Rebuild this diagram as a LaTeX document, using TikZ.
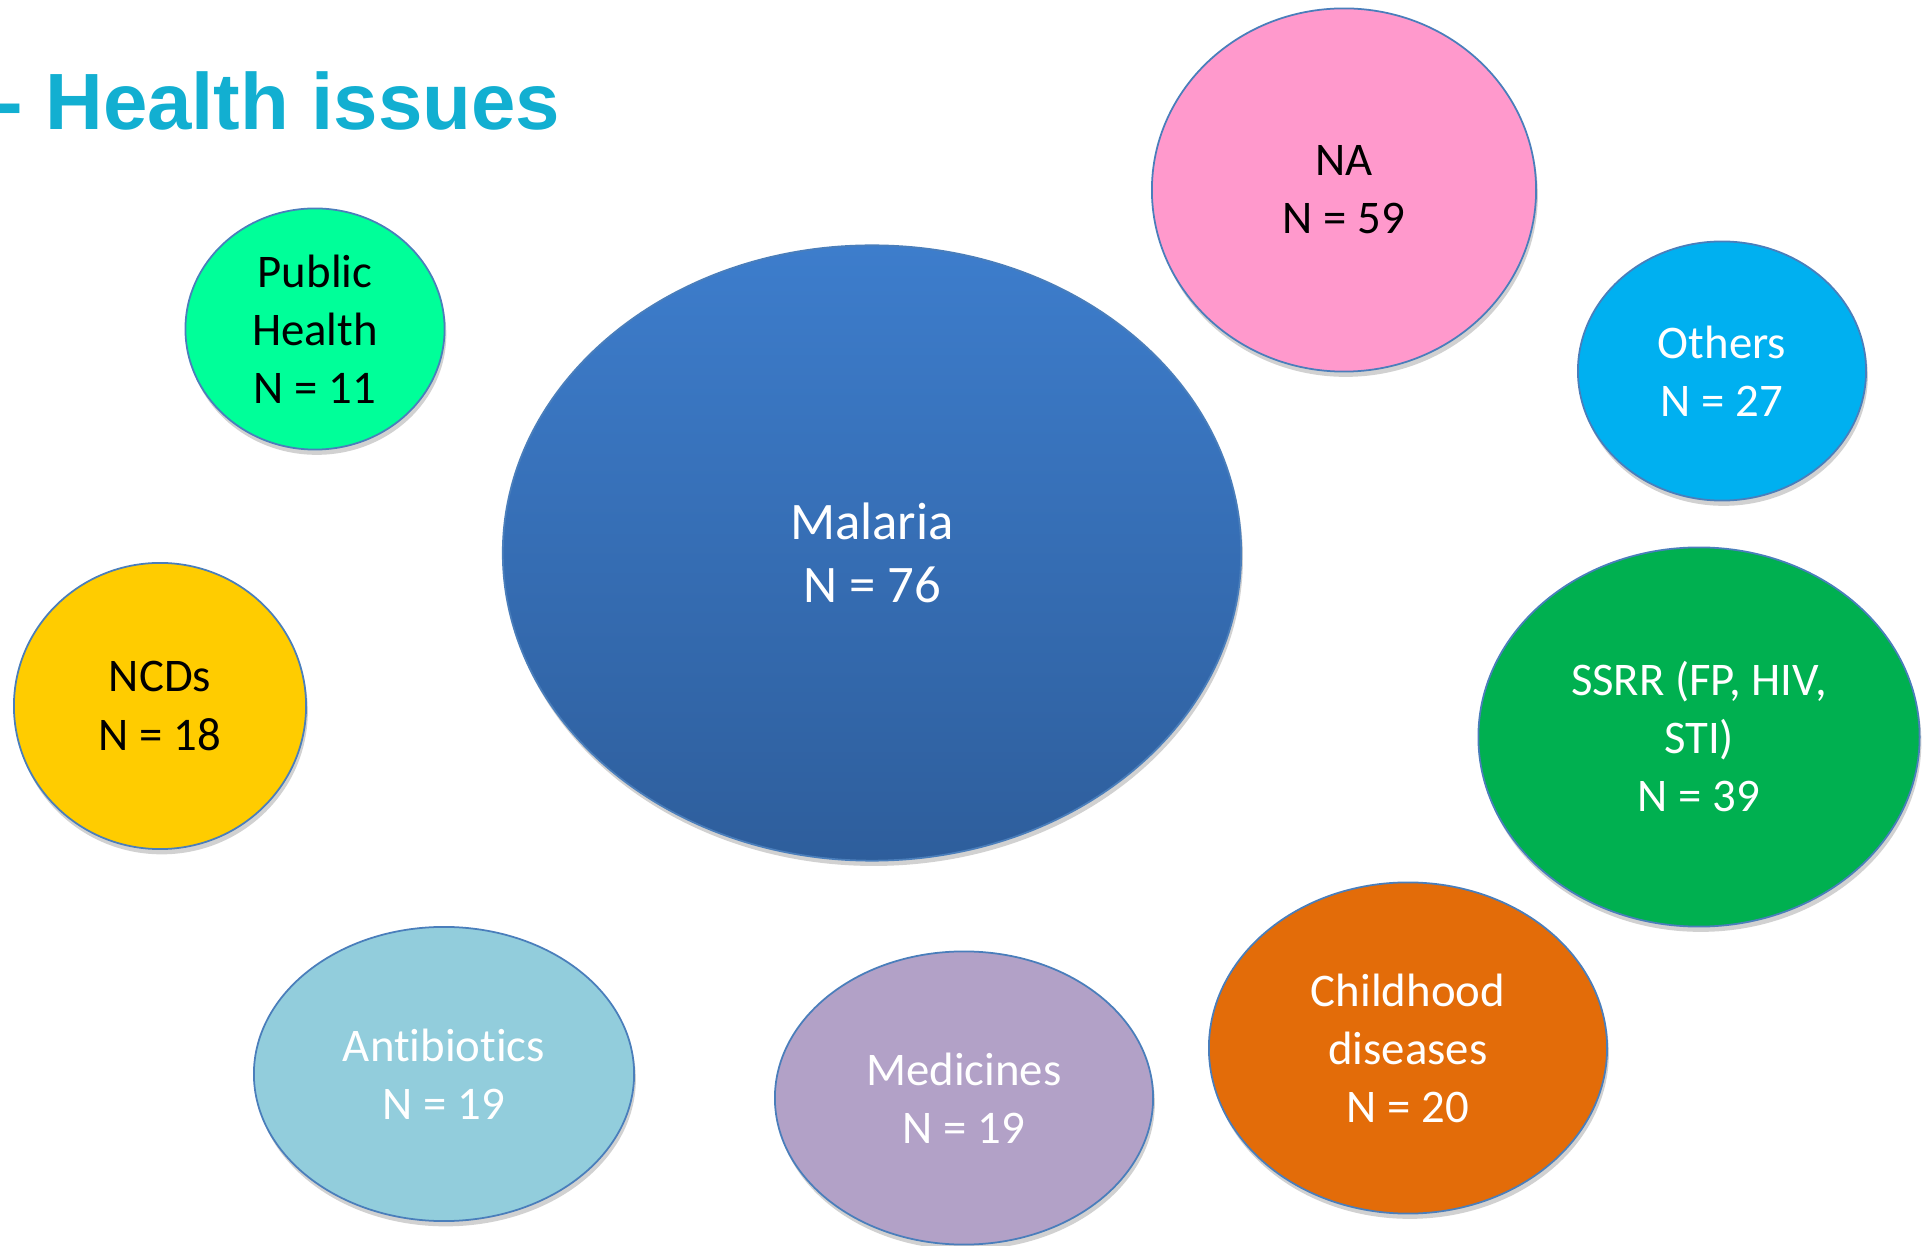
\documentclass[tikz,border=0pt]{standalone}
\usepackage{fontspec}
\setmainfont{Carlito}[Ligatures=NoCommon]
\newfontfamily\titlefont{Liberation Sans}
\usetikzlibrary{shapes.geometric,shadows}
\definecolor{bord}{HTML}{4A7EBB}
\definecolor{titleblue}{HTML}{12AFD1}
\definecolor{malTop}{HTML}{3D7DCC}
\definecolor{malBot}{HTML}{2E5E9C}
\definecolor{naPink}{HTML}{FF99CC}
\definecolor{othBlue}{HTML}{00B0F0}
\definecolor{ssrGreen}{HTML}{00B050}
\definecolor{chOrange}{HTML}{E36C09}
\definecolor{medPurple}{HTML}{B2A1C7}
\definecolor{antBlue}{HTML}{92CDDC}
\definecolor{ncdYellow}{HTML}{FFCC00}
\definecolor{phGreen}{HTML}{00FF99}
\tikzset{
  bub/.style={ellipse, draw=bord, line width=0.5pt, inner sep=0pt, align=center,
    font=\fontsize{13.3pt}{16.5pt}\selectfont,
    drop shadow={shadow xshift=0.5pt, shadow yshift=-1.5pt, opacity=0.18, fill=black}},
  bigbub/.style={bub, font=\fontsize{15pt}{18pt}\selectfont},
}
\begin{document}
\begin{tikzpicture}[x=0.01cm, y=-0.01cm]
\useasboundingbox (0,0) rectangle (1932,1246);
\clip (0,0) rectangle (1932,1246);
\node[anchor=base west, inner sep=0pt, text=titleblue, font=\titlefont\bfseries\fontsize{22.7pt}{27pt}\selectfont] (title) at (-4,130) {- Health issues};
\node[bigbub, top color=malTop, bottom color=malBot, text=white, minimum width=7.38cm, minimum height=6.15cm] (malaria) at (872,553) {Malaria\\N = 76};
\node[bub, fill=naPink, text=black, minimum width=3.84cm, minimum height=3.63cm] (na) at (1344,190) {NA\\N = 59};
\node[bub, fill=othBlue, text=white, minimum width=2.88cm, minimum height=2.59cm] (others) at (1722,371) {Others\\N = 27};
\node[bub, fill=ssrGreen, text=white, minimum width=4.41cm, minimum height=3.79cm] (ssrr) at (1699,737) {SSRR (FP, HIV,\\STI)\\N = 39};
\node[bub, fill=chOrange, text=white, minimum width=3.98cm, minimum height=3.31cm] (child) at (1408,1048) {Childhood\\diseases\\N = 20};
\node[bub, fill=medPurple, text=white, minimum width=3.78cm, minimum height=2.93cm] (med) at (964,1098) {Medicines\\N = 19};
\node[bub, fill=antBlue, text=white, minimum width=3.80cm, minimum height=2.94cm] (anti) at (444,1074) {Antibiotics\\N = 19};
\node[bub, fill=ncdYellow, text=black, minimum width=2.92cm, minimum height=2.86cm] (ncd) at (160,706) {NCDs\\N = 18};
\node[bub, fill=phGreen, text=black, minimum width=2.59cm, minimum height=2.41cm] (ph) at (315,329) {Public\\Health\\N = 11};
\end{tikzpicture}
\end{document}
